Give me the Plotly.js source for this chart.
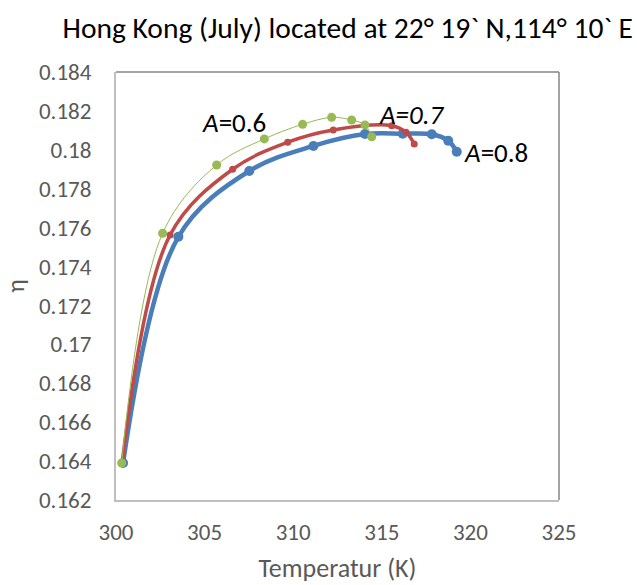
<!DOCTYPE html>
<html>
<head>
<meta charset="utf-8">
<script src="https://cdn.plot.ly/plotly-3.0.1.min.js"></script>
<style>html,body{margin:0;padding:0;background:#fff;}#chart{width:637px;height:585px;}</style>
</head>
<body>
<div id="chart"></div>
<script>
// A = 0.8
const tempA08 = [300.4, 303.52, 307.52, 311.14, 314.05, 316.18, 317.82, 318.75, 319.23];
const etaA08  = [0.1639, 0.17553, 0.17891, 0.18020, 0.18081, 0.18083, 0.18080, 0.18047, 0.17990];
// A = 0.7
const tempA07 = [300.35, 303.05, 306.58, 309.69, 312.26, 315.56, 316.37, 316.83];
const etaA07  = [0.1639, 0.17562, 0.17900, 0.18039, 0.18102, 0.18124, 0.18090, 0.18030];
// A = 0.6
const tempA06 = [300.32, 302.63, 305.68, 308.37, 310.53, 312.17, 313.30, 314.05, 314.43];
const etaA06  = [0.1639, 0.17571, 0.17922, 0.18056, 0.18131, 0.18167, 0.18153, 0.18128, 0.18067];

const xTicks = [300, 305, 310, 315, 320, 325];
const yTicks = [0.162, 0.164, 0.166, 0.168, 0.17, 0.172, 0.174, 0.176, 0.178, 0.18, 0.182, 0.184];
const yTickText = ['0.162','0.164','0.166','0.168','0.17','0.172','0.174','0.176','0.178','0.18','0.182','0.184'];

const FONT = 'Carlito, Calibri, Lato, sans-serif';

const traces = [
  {x: tempA08, y: etaA08, mode: 'lines+markers', name: 'A=0.8',
   line: {color: '#4A7EBB', width: 4.5, shape: 'spline', smoothing: 1},
   marker: {color: '#4A7EBB', size: 10}},
  {x: tempA07, y: etaA07, mode: 'lines+markers', name: 'A=0.7',
   line: {color: '#BE4B48', width: 3.5, shape: 'spline', smoothing: 1},
   marker: {color: '#BE4B48', size: 7}},
  {x: tempA06, y: etaA06, mode: 'lines+markers', name: 'A=0.6',
   line: {color: '#98B954', width: 1, shape: 'spline', smoothing: 1},
   marker: {color: '#98B954', size: 9}}
];

const layout = {
  width: 637, height: 585,
  margin: {l: 116, r: 78, t: 72, b: 85},
  paper_bgcolor: '#fff', plot_bgcolor: '#fff',
  showlegend: false,
  font: {family: FONT, color: '#595959', size: 22},
  title: {text: 'Hong Kong (July) located at 22° 19` N,114° 10` E',
          font: {family: FONT, color: '#000', size: 29.5},
          x: 0.546, xanchor: 'center', y: 0.952, yanchor: 'middle'},
  xaxis: {range: [300, 325], tickvals: xTicks, ticktext: xTicks.map(String),
          showgrid: false, zeroline: false, showline: true, linecolor: '#BFBFBF', linewidth: 2,
          ticks: '', ticklabelstandoff: 10, tickfont: {size: 23, color: '#595959'},
          title: {text: 'Temperatur (K)', font: {size: 26, color: '#595959'}, standoff: 14}},
  yaxis: {range: [0.162, 0.184], tickvals: yTicks, ticktext: yTickText,
          showgrid: false, zeroline: false, showline: true, linecolor: '#BFBFBF', linewidth: 2,
          ticks: '', ticklabelstandoff: 18, tickfont: {size: 23, color: '#595959'},
          title: {text: 'η', font: {size: 25, color: '#595959'}, standoff: 8}},
  shapes: [
    {type: 'line', xref: 'paper', yref: 'paper', x0: 0, x1: 1, y0: 1, y1: 1, line: {color: '#868686', width: 1.5}},
    {type: 'line', xref: 'paper', yref: 'paper', x0: 1, x1: 1, y0: 0, y1: 1, line: {color: '#868686', width: 1.5}}
  ],
  annotations: [
    {x: 306.66, y: 0.18138, xref: 'x', yref: 'y', showarrow: false,
     text: '<i>A</i>=0.6', font: {family: FONT, size: 27, color: '#000'}},
    {x: 316.73, y: 0.18179, xref: 'x', yref: 'y', showarrow: false,
     text: '<i>A=0.7</i>', font: {family: FONT, size: 27, color: '#000'}},
    {x: 321.42, y: 0.17984, xref: 'x', yref: 'y', showarrow: false,
     text: '<i>A</i>=0.8', font: {family: FONT, size: 27, color: '#000'}}
  ]
};

Plotly.newPlot('chart', traces, layout, {displayModeBar: false, responsive: false});
</script>
</body>
</html>
